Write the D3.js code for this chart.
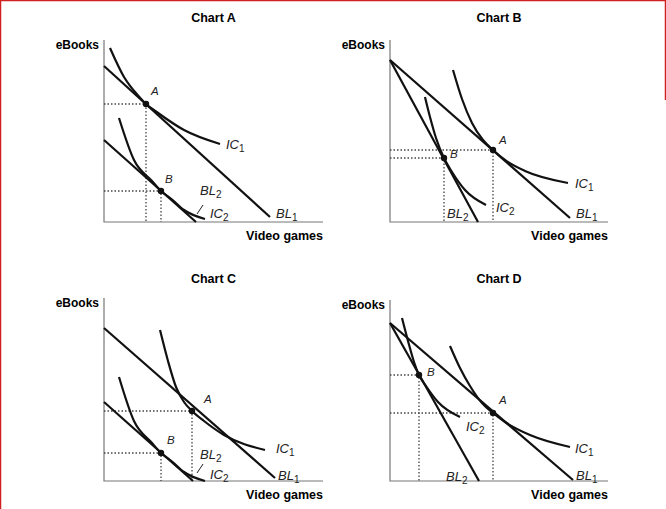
<!DOCTYPE html><html><head><script src="https://cdn.jsdelivr.net/npm/d3@7"></script>
<style>body{margin:0;background:#fff}text{font-family:"Liberation Sans",Arial,sans-serif}</style></head><body>
<script>
const panels=["Chart A","Chart B","Chart C","Chart D"];
const origins=[[104,222],[390,222],[104,481],[390,481]];
const tops=[40,40,298,300];
const rights=[323,608,323,608];
const BL1=[[[0,156],[166,5]],[[0,162],[180,4]],[[0,153],[171,3]],[[0,158],[183,1]]];
const BL2=[[[0,82],[92,0]],[[0,162],[88,0]],[[0,79],[89,0]],[[0,158],[89,0]]];
const IC1=[[[6,174],[20,145],[34,126.5],[42,118],[52,110.5],[80,92],[116,78]],
 [[63,152],[72,123],[82,99],[93,82],[103,72],[115,62],[135,51],[178,39]],
 [[56,151],[64,120],[72,94],[80,79],[88,70],[100,60],[120,46],[161,31]],
 [[60,135],[70,113],[80,95],[92,78],[103,68],[115,59],[140,46],[180,34]]];
const IC2=[[[15,104],[30,62],[48,41],[57,31],[68,22.5],[80,12],[101,3]],
 [[35,125],[40,105],[46,84],[54,64],[62,50],[75,32],[96,17]],
 [[15,104],[30,60],[48,38],[57,28],[68,19.5],[80,9],[101,0]],
 [[12,163],[18,140],[24,119],[29,106],[36,95],[48,79],[70,64]]];
const ptA=[[42,118],[103,72],[88,70],[103,68]];
const ptB=[[57,31],[54,64],[57,28],[29,106]];
const labA=[[47,127],[109,78],[100,78],[109,77]];
const labB=[[61,39],[60,64],[63,37],[37,105]];
const labIC1=[[122,73],[185,34],[172,28],[185,28]];
const labBL1=[[172,4],[186,4],[174,1],[186,1]];
const labIC2=[[106,4],[106,10],[106,2],[76,50]];
const labBL2=[[96,27],[57,4],[96,22],[56,0]];
const svg=d3.select("body").append("svg").attr("width",666).attr("height",509);
svg.append("path").attr("d","M0.5,509V0.5H665.5V100").attr("fill","none").attr("stroke","#d02020").attr("stroke-width",1.5);
panels.forEach((t,i)=>{
 const [ox,oy]=origins[i];
 const x=d3.scaleLinear().domain([0,rights[i]-ox]).range([ox,rights[i]]);
 const y=d3.scaleLinear().domain([0,oy-tops[i]]).range([oy,tops[i]]);
 const g=svg.append("g");
 g.append("path").attr("d",`M${ox},${tops[i]}V${oy}H${rights[i]}`).attr("fill","none").attr("stroke","#777").attr("stroke-width",1.2);
 g.append("text").attr("x",(ox+rights[i])/2).attr("y",i<2?22:283).attr("text-anchor","middle").attr("font-weight","bold").attr("font-size",12.5).text(t);
 g.append("text").attr("x",ox-5).attr("y",tops[i]+9).attr("text-anchor","end").attr("font-weight","bold").attr("font-size",12).text("eBooks");
 g.append("text").attr("x",rights[i]).attr("y",oy+18).attr("text-anchor","end").attr("font-weight","bold").attr("font-size",12.5).text("Video games");
 const line=d3.line().x(d=>x(d[0])).y(d=>y(d[1]));
 const curve=d3.line().x(d=>x(d[0])).y(d=>y(d[1])).curve(d3.curveMonotoneX);
 [ptA[i],ptB[i]].forEach(p=>{
  g.append("path").attr("d",`M${x(0)},${y(p[1])}H${x(p[0])}V${y(0)}`).attr("fill","none").attr("stroke","#444").attr("stroke-width",1.3).attr("stroke-dasharray","1.5,2");
 });
 [BL1[i],BL2[i]].forEach(d=>g.append("path").attr("d",line(d)).attr("fill","none").attr("stroke","#111").attr("stroke-width",2.2));
 [IC1[i],IC2[i]].forEach(d=>g.append("path").attr("d",curve(d)).attr("fill","none").attr("stroke","#111").attr("stroke-width",2.2));
 [ptA[i],ptB[i]].forEach(p=>g.append("circle").attr("cx",x(p[0])).attr("cy",y(p[1])).attr("r",3.2).attr("fill","#111"));
 const it=(p,s)=>g.append("text").attr("x",x(p[0])).attr("y",y(p[1])).attr("font-style","italic").attr("font-size",11.5).attr("fill","#222").text(s);
 it(labA[i],"A");it(labB[i],"B");
 const sub=(p,s,n)=>{const tx=g.append("text").attr("x",x(p[0])).attr("y",y(p[1])).attr("font-style","italic").attr("font-size",13).attr("fill","#222");tx.append("tspan").text(s);tx.append("tspan").attr("font-style","normal").attr("font-size",10).attr("dy",3).text(n);};
 sub(labIC1[i],"IC","1");sub(labBL1[i],"BL","1");sub(labIC2[i],"IC","2");sub(labBL2[i],"BL","2");
 if(i===0||i===2){g.append("path").attr("d",line([[93,8],[99,17]])).attr("stroke","#222").attr("stroke-width",1);}
});
</script></body></html>
